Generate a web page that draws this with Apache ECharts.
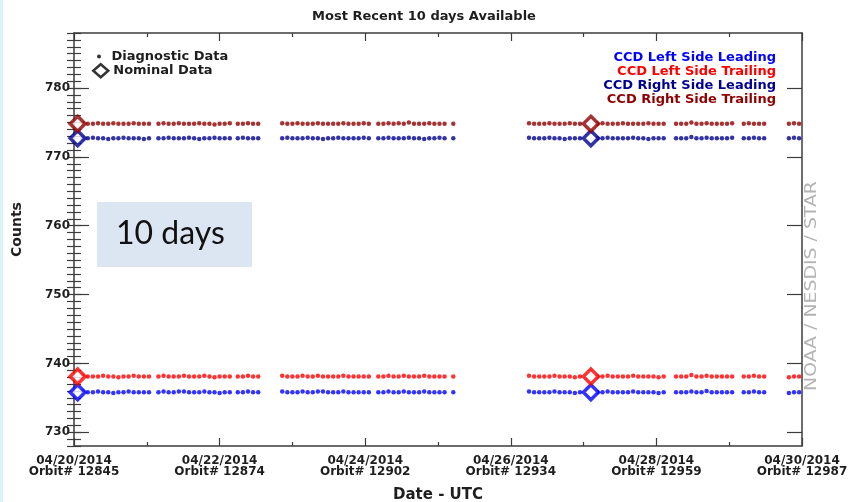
<!DOCTYPE html>
<html>
<head>
<meta charset="utf-8">
<script src="https://cdn.jsdelivr.net/npm/echarts@6/dist/echarts.min.js"></script>
<style>
  html, body { margin: 0; padding: 0; background: #fff; }
  #chart { width: 848px; height: 502px; }
</style>
</head>
<body>
<div id="chart"></div>
<script>
// Time axis: days since 04/20/2014 00:00 UTC
const dateLabels  = ['04/20/2014', '04/22/2014', '04/24/2014', '04/26/2014', '04/28/2014', '04/30/2014'];
const orbitLabels = ['Orbit# 12845', 'Orbit# 12874', 'Orbit# 12902', 'Orbit# 12934', 'Orbit# 12959', 'Orbit# 12987'];
const countTicks  = [730, 740, 750, 760, 770, 780];

// Diagnostic samples (one per orbit, grouped in passes)
const diagTimes = [
  0.12, 0.19, 0.26, 0.33, 0.40, 0.47, 0.54, 0.61, 0.68, 0.75, 0.82, 0.89, 0.96, 1.03,
  1.16, 1.23, 1.30, 1.37, 1.44, 1.51, 1.58, 1.65, 1.72, 1.79, 1.86, 1.93, 2.00, 2.07, 2.14,
  2.25, 2.32, 2.39, 2.46, 2.53,
  2.86, 2.93, 3.00, 3.07, 3.14, 3.21, 3.28, 3.35, 3.42, 3.49, 3.56, 3.63, 3.70, 3.77, 3.84, 3.91, 3.98, 4.05,
  4.18, 4.25, 4.32, 4.39, 4.46, 4.53, 4.60, 4.67, 4.74, 4.81, 4.88, 4.95, 5.02, 5.09,
  5.21,
  6.25, 6.32, 6.39, 6.46, 6.53, 6.60, 6.67, 6.74, 6.81, 6.88, 6.95,
  7.19, 7.26, 7.33, 7.40, 7.47, 7.54, 7.61, 7.68, 7.75, 7.82, 7.89, 7.96, 8.03, 8.10,
  8.27, 8.34, 8.41, 8.48, 8.55, 8.62, 8.69, 8.76, 8.83, 8.90, 8.97, 9.04,
  9.20, 9.27, 9.34, 9.41, 9.48,
  9.82, 9.89, 9.96
];

const leftLeading = [
  735.9, 735.8, 735.8, 735.9, 735.8, 735.8, 735.7, 735.8, 735.8, 735.9, 735.8, 735.8, 735.8, 735.8,
  735.8, 735.9, 735.8, 735.8, 735.9, 735.9, 735.8, 735.8, 735.8, 735.9, 735.8, 735.8, 735.7, 735.8, 735.8,
  735.8, 735.8, 735.9, 735.8, 735.8,
  735.9, 735.8, 735.8, 735.8, 735.9, 735.8, 735.8, 735.9, 735.9, 735.8, 735.8, 735.8, 735.9, 735.8, 735.8, 735.8, 735.8, 735.8,
  735.8, 735.8, 735.9, 735.8, 735.8, 735.9, 735.8, 735.8, 735.8, 735.9, 735.8, 735.8, 735.8, 735.8,
  735.8,
  735.9, 735.8, 735.8, 735.8, 735.8, 735.9, 735.8, 735.8, 735.8, 735.7, 735.8,
  735.8, 735.8, 735.9, 735.8, 735.8, 735.8, 735.8, 735.9, 735.8, 735.8, 735.8, 735.8, 735.7, 735.8,
  735.8, 735.8, 735.8, 735.9, 735.8, 735.8, 736.0, 735.8, 735.8, 735.8, 735.8, 735.8,
  735.8, 735.8, 735.9, 735.8, 735.8,
  735.7, 735.8, 735.8
];

const leftTrailing = [
  738.2, 738.1, 738.1, 738.1, 738.2, 738.1, 738.1, 738.0, 738.1, 738.1, 738.2, 738.1, 738.1, 738.1,
  738.1, 738.2, 738.1, 738.1, 738.1, 738.2, 738.1, 738.1, 738.1, 738.2, 738.1, 738.0, 738.1, 738.1, 738.1,
  738.1, 738.1, 738.2, 738.1, 738.1,
  738.2, 738.1, 738.1, 738.1, 738.2, 738.1, 738.1, 738.2, 738.1, 738.1, 738.1, 738.1, 738.2, 738.1, 738.1, 738.1, 738.1, 738.1,
  738.1, 738.1, 738.2, 738.1, 738.1, 738.2, 738.1, 738.1, 738.1, 738.2, 738.1, 738.1, 738.1, 738.1,
  738.1,
  738.2, 738.1, 738.1, 738.1, 738.1, 738.2, 738.1, 738.1, 738.1, 738.0, 738.1,
  738.1, 738.1, 738.2, 738.1, 738.1, 738.1, 738.1, 738.2, 738.1, 738.1, 738.1, 738.1, 738.0, 738.1,
  738.1, 738.1, 738.1, 738.3, 738.1, 738.1, 738.2, 738.1, 738.1, 738.1, 738.1, 738.1,
  738.1, 738.1, 738.2, 738.1, 738.1,
  738.0, 738.1, 738.1
];

const rightLeading = [
  772.7, 772.7, 772.8, 772.7, 772.7, 772.6, 772.7, 772.7, 772.8, 772.7, 772.7, 772.7, 772.6, 772.7,
  772.7, 772.7, 772.8, 772.7, 772.7, 772.7, 772.8, 772.7, 772.6, 772.7, 772.7, 772.8, 772.7, 772.7, 772.7,
  772.7, 772.8, 772.7, 772.7, 772.7,
  772.7, 772.8, 772.7, 772.7, 772.7, 772.8, 772.7, 772.7, 772.6, 772.7, 772.7, 772.8, 772.7, 772.7, 772.7, 772.7, 772.8, 772.7,
  772.7, 772.7, 772.8, 772.7, 772.7, 772.7, 772.8, 772.7, 772.7, 772.6, 772.7, 772.7, 772.8, 772.7,
  772.7,
  772.8, 772.7, 772.7, 772.7, 772.8, 772.7, 772.7, 772.6, 772.7, 772.7, 772.7,
  772.7, 772.7, 772.8, 772.7, 772.7, 772.7, 772.7, 772.8, 772.7, 772.7, 772.6, 772.7, 772.7, 772.7,
  772.7, 772.7, 772.7, 772.9, 772.7, 772.7, 772.8, 772.7, 772.7, 772.7, 772.7, 772.8,
  772.7, 772.7, 772.8, 772.7, 772.7,
  772.7, 772.8, 772.7
];

const rightTrailing = [
  774.9, 774.8, 774.8, 774.9, 774.8, 774.8, 774.9, 774.8, 774.8, 774.8, 774.9, 774.8, 774.8, 774.8,
  774.8, 774.9, 774.8, 774.8, 774.9, 774.8, 774.8, 774.8, 774.9, 774.8, 774.8, 774.7, 774.8, 774.8, 774.9,
  774.8, 774.8, 774.9, 774.8, 774.8,
  774.9, 774.8, 774.8, 774.9, 774.8, 774.8, 774.8, 774.9, 774.8, 774.8, 774.8, 774.8, 774.9, 774.8, 774.8, 774.8, 774.9, 774.8,
  774.8, 774.8, 774.9, 774.8, 774.9, 774.8, 775.0, 774.8, 774.8, 774.8, 774.9, 774.8, 774.8, 774.8,
  774.8,
  774.9, 774.8, 774.8, 774.8, 774.9, 774.8, 774.8, 774.8, 774.9, 774.8, 774.8,
  774.8, 774.9, 774.8, 774.8, 774.8, 774.9, 774.8, 774.8, 774.8, 774.8, 774.9, 774.8, 774.8, 774.8,
  774.8, 774.8, 774.8, 775.0, 774.8, 774.8, 774.9, 774.8, 774.8, 774.8, 774.8, 774.9,
  774.8, 774.9, 774.8, 774.8, 774.8,
  774.8, 774.9, 774.8
];

// Nominal-mode samples
const nominalTimes = [0.05, 7.10];
const nominalLeftLeading   = [735.8, 735.8];
const nominalLeftTrailing  = [738.1, 738.1];
const nominalRightLeading  = [772.7, 772.7];
const nominalRightTrailing = [774.8, 774.8];

const FONT = 'DejaVu Sans';
const FRAME = '#3c3c3c';
const TEXT = '#1e1e1e';
const C_LL = '#0000ff';
const C_LT = '#ff0000';
const C_RL = '#000090';
const C_RT = '#900000';

const pairs = (xs, ys) => xs.map((x, i) => [x, ys[i]]);

const dotSeries = (name, color, values) => ({
  name, type: 'scatter', data: pairs(diagTimes, values),
  symbol: 'circle', symbolSize: 4.5, itemStyle: { color }, z: 2
});
const nominalSeries = (name, color, values) => ({
  name, type: 'scatter', data: pairs(nominalTimes, values),
  symbol: 'diamond', symbolSize: [15, 15],
  itemStyle: { color: '#fff', borderColor: color, borderWidth: 3.5 }, z: 3
});

const frameLine = { onZero: false, lineStyle: { color: FRAME, width: 1.5 } };
const tickStyle = { color: FRAME, width: 1.2 };

const xBase = {
  type: 'value', min: 0, max: 10, interval: 2,
  axisLine: frameLine,
  axisTick: { inside: true, length: 8, lineStyle: tickStyle },
  minorTick: { show: true, splitNumber: 2, length: 4, lineStyle: tickStyle },
  splitLine: { show: false }
};

const yMajor = (position, withLabels) => ({
  type: 'value', position, min: 728, max: 788,
  axisLine: frameLine,
  axisTick: { inside: true, length: 15, customValues: countTicks, lineStyle: tickStyle },
  axisLabel: withLabels
    ? { customValues: countTicks, fontFamily: FONT, fontWeight: 'bold', fontSize: 12, color: TEXT,
        margin: 4, padding: [3, 0, 0, 0] }
    : { show: false },
  splitLine: { show: false }
});
const yMinor = (position) => ({
  type: 'value', position, min: 728, max: 788, interval: 1,
  axisLine: { show: false },
  axisTick: { inside: true, length: 7, lineStyle: tickStyle },
  axisLabel: { show: false },
  splitLine: { show: false }
});

const legendText = { fontFamily: FONT, fontWeight: 'bold', fontSize: 13, color: TEXT };

const chart = echarts.init(document.getElementById('chart'), null, { renderer: 'canvas' });

chart.setOption({
  backgroundColor: '#fff',
  animation: false,
  title: {
    text: 'Most Recent 10 days Available',
    left: 'center', top: 5,
    textStyle: { fontFamily: FONT, fontWeight: 'bold', fontSize: 13, color: TEXT }
  },
  grid: { left: 74, right: 46, top: 33, bottom: 56, outerBoundsMode: 'none' },
  legend: [
    {
      data: [{ name: 'Diagnostic Data', icon: 'circle', itemStyle: { color: '#000' } }],
      left: 97, top: 50, padding: 0, itemWidth: 15, itemHeight: 4, selectedMode: false,
      textStyle: legendText
    },
    {
      data: [{ name: 'Nominal Data', icon: 'diamond',
               itemStyle: { color: '#fff', borderColor: '#000', borderWidth: 2.5 } }],
      left: 92, top: 63, padding: 0, itemWidth: 15, itemHeight: 13, selectedMode: false,
      textStyle: legendText
    },
    {
      data: [
        { name: 'CCD Left Side Leading',   textStyle: { color: C_LL } },
        { name: 'CCD Left Side Trailing',  textStyle: { color: C_LT } },
        { name: 'CCD Right Side Leading',  textStyle: { color: C_RL } },
        { name: 'CCD Right Side Trailing', textStyle: { color: C_RT } }
      ],
      orient: 'vertical', right: 67, top: 51, padding: 0, align: 'right',
      icon: 'none', itemWidth: 0, itemHeight: 14, itemGap: 0, selectedMode: false,
      textStyle: { fontFamily: FONT, fontWeight: 'bold', fontSize: 13, lineHeight: 14 }
    }
  ],
  xAxis: [
    Object.assign({}, xBase, {
      position: 'bottom',
      axisLabel: {
        fontFamily: FONT, fontWeight: 'bold', fontSize: 12, color: TEXT,
        lineHeight: 11.5, margin: 9,
        formatter: (v) => {
          const i = Math.round(v / 2);
          return dateLabels[i] + '\n' + orbitLabels[i];
        }
      },
      name: 'Date - UTC', nameLocation: 'middle', nameGap: 42,
      nameTextStyle: { fontFamily: FONT, fontWeight: 'bold', fontSize: 15, color: TEXT }
    }),
    Object.assign({}, xBase, { position: 'top', axisLabel: { show: false } })
  ],
  yAxis: [
    Object.assign(yMajor('left', true), {
      name: 'Counts', nameLocation: 'middle', nameGap: 50,
      nameTextStyle: { fontFamily: FONT, fontWeight: 'bold', fontSize: 14, color: TEXT, padding: [0, 0, 0, 20] }
    }),
    yMinor('left'),
    yMajor('right', false),
    yMinor('right')
  ],
  graphic: [
    { type: 'rect', left: 0, top: 0, shape: { width: 3, height: 502 }, style: { fill: '#d9f4fb' }, silent: true },
    {
      type: 'group', left: 97, top: 202, silent: true,
      children: [
        { type: 'rect', shape: { x: 0, y: 0, width: 155, height: 65 }, style: { fill: '#dce6f2' } },
        { type: 'text', x: 19, y: 32,
          style: { text: '10 days', font: '32px Lato', fill: '#111', align: 'left', verticalAlign: 'middle' } }
      ]
    },
    {
      type: 'text', x: 812, y: 286, rotation: Math.PI / 2, scaleX: 1.18, silent: true,
      style: { text: 'NOAA / NESDIS / STAR', font: '16px "DejaVu Sans"', fill: '#b4b4b4',
               align: 'center', verticalAlign: 'middle' }
    }
  ],
  series: [
    { name: 'Diagnostic Data', type: 'scatter', data: [], symbol: 'circle', itemStyle: { color: '#000' } },
    { name: 'Nominal Data', type: 'scatter', data: [], symbol: 'diamond',
      itemStyle: { color: '#fff', borderColor: '#000', borderWidth: 2.5 } },
    dotSeries('CCD Left Side Leading',   C_LL, leftLeading),
    dotSeries('CCD Left Side Trailing',  C_LT, leftTrailing),
    dotSeries('CCD Right Side Leading',  C_RL, rightLeading),
    dotSeries('CCD Right Side Trailing', C_RT, rightTrailing),
    nominalSeries('CCD Left Side Leading',   C_LL, nominalLeftLeading),
    nominalSeries('CCD Left Side Trailing',  C_LT, nominalLeftTrailing),
    nominalSeries('CCD Right Side Leading',  C_RL, nominalRightLeading),
    nominalSeries('CCD Right Side Trailing', C_RT, nominalRightTrailing)
  ]
});
</script>
</body>
</html>
